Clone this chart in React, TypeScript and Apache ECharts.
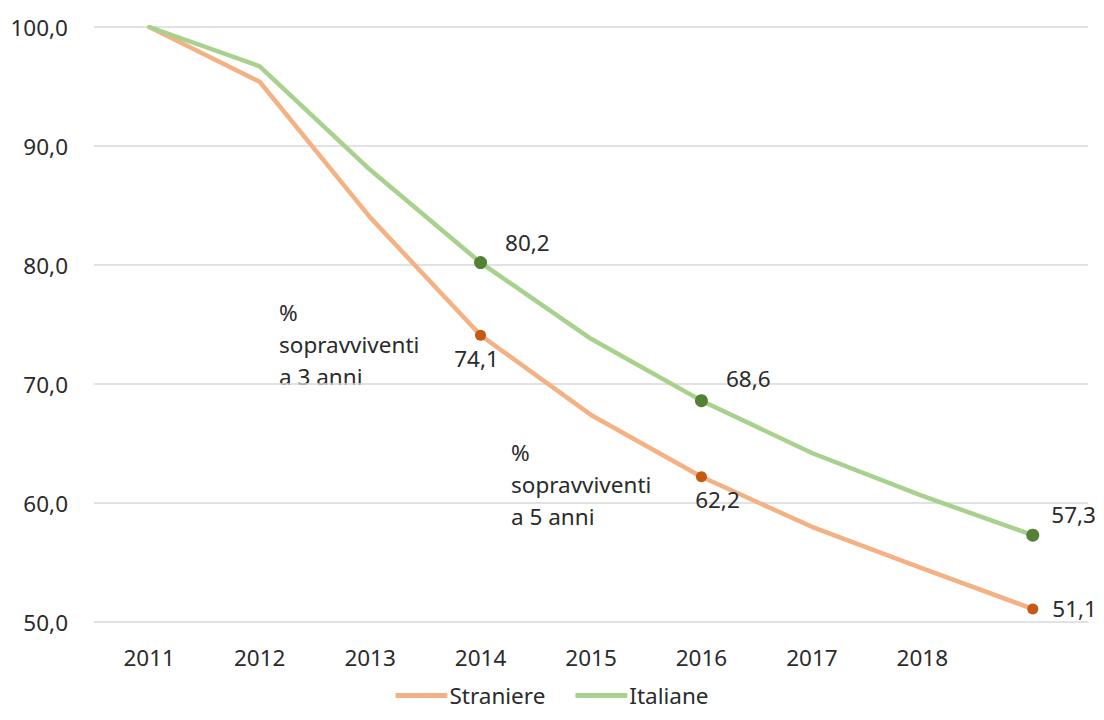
import React, { useEffect, useRef } from "react";
import * as echarts from "echarts";

const categories = ["2011", "2012", "2013", "2014", "2015", "2016", "2017", "2018", ""];
const straniere = [100, 95.4, 84.0, 74.1, 67.4, 62.2, 58.0, 54.5, 51.1];
const italiane = [100, 96.7, 88.0, 80.2, 73.8, 68.6, 64.2, 60.6, 57.3];
const markedIdx = [3, 5, 8];
const yMin = 50;
const yMax = 100;
const yStep = 10;
const note3 = "%\nsopravviventi\na 3 anni";
const note5 = "%\nsopravviventi\na 5 anni";

const FONT = "Noto Sans";
const FS = 22.5;
const TXT = "#2b2b2b";

const fmt = (v: number) => v.toFixed(1).replace(".", ",");

export default function App() {
  const ref = useRef<HTMLDivElement>(null);
  useEffect(() => {
    if (!ref.current) return;
    const chart = echarts.init(ref.current, undefined, { renderer: "svg" });

    const labelS: Record<number, any> = {
      3: { position: "bottom", distance: 6, offset: [-4, 0] },
      5: { position: "bottom", distance: 6, offset: [16, 0] },
      8: { position: "right", distance: 6, offset: [8, 0] },
    };
    const labelI: Record<number, any> = {
      3: { position: "right", distance: 6, offset: [12, -20] },
      5: { position: "right", distance: 6, offset: [12, -22] },
      8: { position: "right", distance: 6, offset: [6, -21] },
    };

    const build = (vals: number[], markerColor: string, size: number, lab: Record<number, any>) =>
      vals.map((v, i) =>
        markedIdx.includes(i)
          ? {
              value: v,
              symbol: "circle",
              symbolSize: size,
              itemStyle: { color: markerColor },
              label: {
                show: true,
                formatter: () => fmt(v),
                color: TXT,
                fontFamily: FONT,
                fontSize: FS,
                ...lab[i],
              },
            }
          : { value: v, symbol: "none", symbolSize: 0 }
      );

    chart.setOption({
      animation: false,
      backgroundColor: "#ffffff",
      grid: { left: 94, right: 16, top: 27, bottom: 98, containLabel: false },
      legend: {
        bottom: 8,
        left: "center",
        icon: "roundRect",
        itemWidth: 52,
        itemHeight: 5,
        itemGap: 30,
        textStyle: { color: TXT, fontFamily: FONT, fontSize: FS, padding: [0, 0, 0, -3] },
        data: ["Straniere", "Italiane"],
      },
      xAxis: {
        type: "category",
        data: categories,
        boundaryGap: true,
        axisLine: { show: false },
        axisTick: { show: false },
        axisLabel: { color: TXT, fontFamily: FONT, fontSize: FS, margin: 24 },
      },
      yAxis: {
        type: "value",
        min: yMin,
        max: yMax,
        interval: yStep,
        axisLine: { show: false },
        axisTick: { show: false },
        axisLabel: { color: TXT, fontFamily: FONT, fontSize: FS, margin: 26, formatter: (v: number) => fmt(v) },
        splitLine: { lineStyle: { color: "#d9d9d9", width: 1.5 } },
      },
      graphic: [
        {
          type: "text",
          left: 279,
          top: 296,
          style: { text: note3, fill: TXT, font: `${FS}px "${FONT}"`, lineHeight: 32 },
        },
        {
          type: "text",
          left: 511,
          top: 436,
          style: { text: note5, fill: TXT, font: `${FS}px "${FONT}"`, lineHeight: 32 },
        },
      ],
      series: [
        {
          name: "Straniere",
          type: "line",
          color: "#F4B183",
          lineStyle: { color: "#F4B183", width: 4.5, cap: "round", join: "round" },
          data: build(straniere, "#C55A11", 11, labelS),
          z: 2,
        },
        {
          name: "Italiane",
          type: "line",
          color: "#A9D18E",
          lineStyle: { color: "#A9D18E", width: 4.5, cap: "round", join: "round" },
          data: build(italiane, "#548235", 13, labelI),
          z: 3,
        },
      ],
    });
    return () => chart.dispose();
  }, []);
  return (
    <div
      ref={ref}
      style={{ position: "fixed", left: 0, top: 0, width: 1104, height: 720, background: "#fff" }}
    />
  );
}
